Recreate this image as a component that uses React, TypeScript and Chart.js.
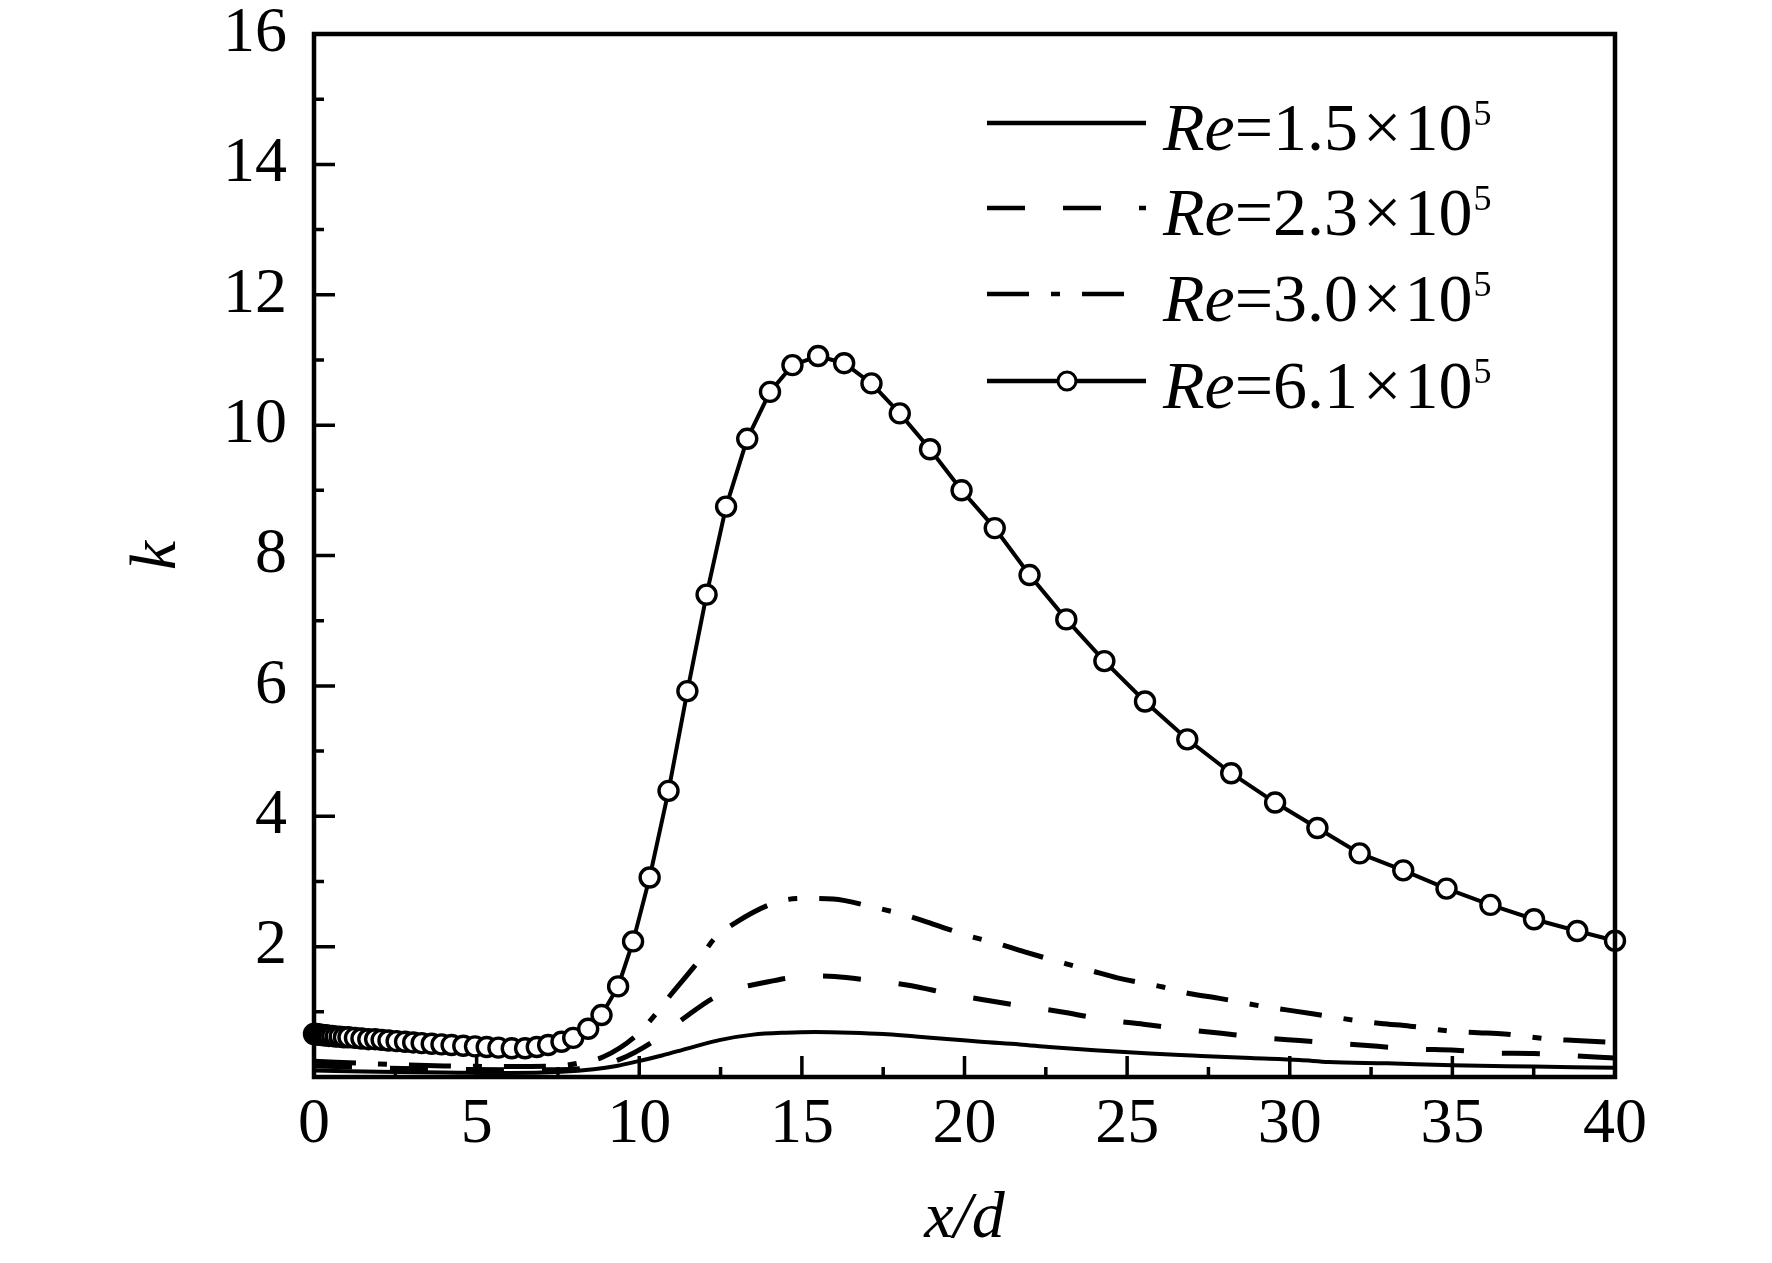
import { useEffect, useRef } from "react";
import Chart from "chart.js/auto";

// x/d positions and k values
const xRe15 = [0, 2, 4, 6, 7.6, 8.6, 9.3, 9.95, 10.7, 11.5, 12.5, 13.5, 14.5, 15.4, 16.5, 17.5, 18.5, 19.55, 20.5, 21.7, 22.6, 24, 25.7, 27, 28.8, 30.3, 31.2, 33, 35, 37.5, 40];
const kRe15 = [0.1, 0.08, 0.07, 0.06, 0.08, 0.12, 0.17, 0.24, 0.33, 0.44, 0.57, 0.65, 0.68, 0.69, 0.68, 0.66, 0.62, 0.58, 0.54, 0.5, 0.46, 0.41, 0.36, 0.33, 0.29, 0.26, 0.23, 0.21, 0.18, 0.16, 0.14];

const xRe23 = [0, 2, 4, 6, 7.5, 8.5, 9.4, 10.38, 11.37, 12.27, 13.0, 13.66, 14.73, 15.4, 16.01, 17.14, 18.37, 19.5, 20.77, 21.9, 23.1, 24.3, 25.5, 26.6, 27.9, 29.0, 30.3, 31.4, 32.7, 33.8, 35.1, 36.2, 37.5, 38.6, 40];
const kRe23 = [0.17, 0.14, 0.12, 0.11, 0.11, 0.15, 0.27, 0.53, 0.9, 1.21, 1.36, 1.43, 1.53, 1.55, 1.54, 1.48, 1.4, 1.28, 1.17, 1.08, 0.99, 0.88, 0.81, 0.74, 0.67, 0.61, 0.56, 0.52, 0.47, 0.43, 0.41, 0.37, 0.36, 0.33, 0.29];

const xRe30 = [0, 2, 4, 6, 7.5, 8.2, 8.9, 9.87, 10.5, 11.0, 11.87, 12.27, 13.0, 14.27, 15.09, 15.96, 17.24, 18.06, 18.83, 20.16, 21.0, 21.85, 23.1, 23.9, 24.7, 26.1, 26.9, 27.8, 29.1, 29.9, 30.7, 32.0, 32.8, 33.7, 35.0, 35.8, 36.6, 38.0, 38.8, 40];
const kRe30 = [0.24, 0.2, 0.17, 0.16, 0.17, 0.22, 0.31, 0.62, 0.96, 1.28, 1.81, 2.1, 2.38, 2.69, 2.74, 2.73, 2.6, 2.5, 2.38, 2.16, 2.05, 1.92, 1.74, 1.63, 1.52, 1.38, 1.28, 1.21, 1.09, 1.03, 0.97, 0.87, 0.82, 0.78, 0.7, 0.68, 0.66, 0.58, 0.56, 0.53];

const xRe61 = [0, 0.03, 0.07, 0.11, 0.16, 0.22, 0.29, 0.37, 0.46, 0.56, 0.67, 0.79, 0.92, 1.06, 1.26, 1.46, 1.67, 1.88, 2.08, 2.29, 2.54, 2.8, 3.05, 3.31, 3.62, 3.92, 4.23, 4.59, 4.95, 5.31, 5.67, 6.08, 6.49, 6.85, 7.2, 7.61, 7.97, 8.43, 8.84, 9.35, 9.81, 10.32, 10.9, 11.48, 12.07, 12.67, 13.32, 14.02, 14.71, 15.5, 16.3, 17.14, 18.01, 18.94, 19.91, 20.93, 22.0, 23.13, 24.3, 25.55, 26.85, 28.2, 29.55, 30.85, 32.15, 33.49, 34.82, 36.17, 37.51, 38.84, 40];
const kRe61 = [0.66, 0.66, 0.66, 0.65, 0.65, 0.65, 0.64, 0.64, 0.63, 0.63, 0.62, 0.62, 0.61, 0.61, 0.6, 0.59, 0.58, 0.58, 0.57, 0.56, 0.55, 0.54, 0.53, 0.52, 0.51, 0.5, 0.49, 0.48, 0.47, 0.46, 0.45, 0.44, 0.44, 0.46, 0.49, 0.54, 0.6, 0.74, 0.95, 1.39, 2.08, 3.06, 4.39, 5.92, 7.4, 8.75, 9.79, 10.51, 10.92, 11.06, 10.95, 10.64, 10.18, 9.63, 9.0, 8.42, 7.7, 7.02, 6.38, 5.76, 5.18, 4.66, 4.21, 3.82, 3.43, 3.17, 2.89, 2.64, 2.42, 2.24, 2.09];

const reValues = ["1.5", "2.3", "3.0", "6.1"];
const reExponent = "5";

const serif = "'Liberation Serif', 'Times New Roman', Times, serif";

const toPoints = (xs: number[], ks: number[]) => xs.map((x, i) => ({ x, y: ks[i] }));

// box + inward ticks, drawn over the curves like the original
const framePlugin = {
  id: "frame",
  afterDatasetsDraw(chart: any) {
    const { ctx, chartArea: a, scales } = chart;
    const xs = scales.x;
    const ys = scales.y;
    ctx.save();
    ctx.strokeStyle = "#000";
    ctx.setLineDash([]);
    ctx.lineWidth = 3.5;
    ctx.beginPath();
    const xMajor = xs.ticks.map((t: any) => t.value);
    xMajor.forEach((v: number, i: number) => {
      const px = xs.getPixelForValue(v);
      ctx.moveTo(px, a.bottom);
      ctx.lineTo(px, a.bottom - 21);
      if (i < xMajor.length - 1) {
        const pm = xs.getPixelForValue((v + xMajor[i + 1]) / 2);
        ctx.moveTo(pm, a.bottom);
        ctx.lineTo(pm, a.bottom - 10);
      }
    });
    const yMajor = ys.ticks.map((t: any) => t.value);
    yMajor.forEach((v: number, i: number) => {
      const py = ys.getPixelForValue(v);
      ctx.moveTo(a.left, py);
      ctx.lineTo(a.left + 21, py);
      if (i < yMajor.length - 1) {
        const pm = ys.getPixelForValue((v + yMajor[i + 1]) / 2);
        ctx.moveTo(a.left, pm);
        ctx.lineTo(a.left + 10, pm);
      }
    });
    ctx.stroke();
    ctx.lineWidth = 4.5;
    ctx.strokeRect(a.left, a.top, a.right - a.left, a.bottom - a.top);
    ctx.restore();
  },
};

// legend with italic Re and superscript exponent
const legendPlugin = {
  id: "reLegend",
  afterDraw(chart: any) {
    const { ctx } = chart;
    const rowsY = [123, 208, 294, 381];
    const lineX0 = 987;
    const lineX1 = 1146;
    const textX = 1163;
    ctx.save();
    ctx.fillStyle = "#000";
    ctx.strokeStyle = "#000";
    ctx.textBaseline = "alphabetic";
    ctx.textAlign = "left";
    reValues.forEach((val, i) => {
      const ds = chart.data.datasets[i];
      const y = rowsY[i];
      ctx.lineWidth = 4.5;
      ctx.setLineDash(ds.borderDash || []);
      ctx.beginPath();
      ctx.moveTo(lineX0, y);
      ctx.lineTo(lineX1, y);
      ctx.stroke();
      ctx.setLineDash([]);
      if (ds.pointRadius > 0) {
        ctx.lineWidth = 3;
        ctx.fillStyle = "#fff";
        ctx.beginPath();
        ctx.arc(1067, y, 9, 0, Math.PI * 2);
        ctx.fill();
        ctx.stroke();
        ctx.fillStyle = "#000";
      }
      const base = y + 27;
      let x = textX;
      ctx.font = `italic 68px ${serif}`;
      ctx.fillText("Re", x, base);
      x += ctx.measureText("Re").width;
      ctx.font = `68px ${serif}`;
      const main = "=" + val;
      ctx.fillText(main, x, base);
      x += ctx.measureText(main).width + 5;
      ctx.fillText("\u00d7", x, base);
      x += ctx.measureText("\u00d7").width + 3;
      ctx.fillText("10", x, base);
      x += ctx.measureText("10").width + 1;
      ctx.font = `36px ${serif}`;
      ctx.fillText(reExponent, x, base - 25);
    });
    ctx.restore();
  },
};

export default function App() {
  const canvasRef = useRef<HTMLCanvasElement | null>(null);

  useEffect(() => {
    if (!canvasRef.current) return;
    let alive = true;
    const chart = new Chart(canvasRef.current, {
      type: "line",
      data: {
        datasets: [
          {
            label: `Re=${reValues[0]}\u00d710^${reExponent}`,
            data: toPoints(xRe15, kRe15),
            borderColor: "#000",
            borderWidth: 4,
            pointRadius: 0,
            cubicInterpolationMode: "monotone",
            order: 1,
          },
          {
            label: `Re=${reValues[1]}\u00d710^${reExponent}`,
            data: toPoints(xRe23, kRe23),
            borderColor: "#000",
            borderWidth: 5,
            borderDash: [38, 38],
            pointRadius: 0,
            cubicInterpolationMode: "monotone",
            order: 1,
          },
          {
            label: `Re=${reValues[2]}\u00d710^${reExponent}`,
            data: toPoints(xRe30, kRe30),
            borderColor: "#000",
            borderWidth: 5,
            borderDash: [42, 22, 9, 22],
            pointRadius: 0,
            cubicInterpolationMode: "monotone",
            order: 1,
          },
          {
            label: `Re=${reValues[3]}\u00d710^${reExponent}`,
            data: toPoints(xRe61, kRe61),
            borderColor: "#000",
            borderWidth: 4,
            pointRadius: 9.5,
            pointBorderWidth: 3.4,
            pointBackgroundColor: "#fff",
            pointBorderColor: "#000",
            tension: 0,
            clip: false,
            order: 0,
          } as any,
        ],
      },
      options: {
        animation: false,
        responsive: true,
        maintainAspectRatio: false,
        events: [],
        layout: { padding: { top: 34, right: 157, left: 0, bottom: 0 } },
        plugins: {
          legend: { display: false },
          tooltip: { enabled: false },
        },
        scales: {
          x: {
            type: "linear",
            min: 0,
            max: 40,
            grid: { display: false, drawTicks: false },
            border: { display: false },
            ticks: {
              stepSize: 5,
              padding: 16,
              color: "#000",
              font: { family: serif, size: 64, lineHeight: 1 },
              maxRotation: 0,
            },
            title: {
              display: true,
              text: "x/d",
              color: "#000",
              font: { family: serif, size: 66, style: "italic", lineHeight: 1 },
              padding: { top: 0, bottom: 10 },
            },
            afterFit: (scale: any) => {
              scale.height = 186;
            },
          },
          y: {
            type: "linear",
            min: 0,
            max: 16,
            grid: { display: false, drawTicks: false },
            border: { display: false },
            ticks: {
              stepSize: 2,
              padding: 27,
              color: "#000",
              font: { family: serif, size: 64, lineHeight: 1 },
              callback: (v: any) => (v === 0 ? "" : String(v)),
            },
            title: {
              display: true,
              text: "k",
              color: "#000",
              font: { family: serif, size: 66, style: "italic", lineHeight: 1 },
              padding: { top: 125, bottom: 0 },
            },
            afterFit: (scale: any) => {
              scale.width = 314;
              // keep the plot top where the original has it
              scale.paddingTop = 0;
              scale.paddingBottom = 0;
            },
          },
        },
      },
      plugins: [framePlugin, legendPlugin],
    });
    // local serif faces may arrive after the first paint
    Promise.all([
      document.fonts.load('64px "Liberation Serif"'),
      document.fonts.load('italic 64px "Liberation Serif"'),
    ])
      .then(() => {
        if (alive) chart.update();
      })
      .catch(() => {});
    return () => {
      alive = false;
      chart.destroy();
    };
  }, []);

  return (
    <div style={{ position: "fixed", left: 0, top: 0, width: 1772, height: 1263, background: "#fff" }}>
      <canvas ref={canvasRef} />
    </div>
  );
}
